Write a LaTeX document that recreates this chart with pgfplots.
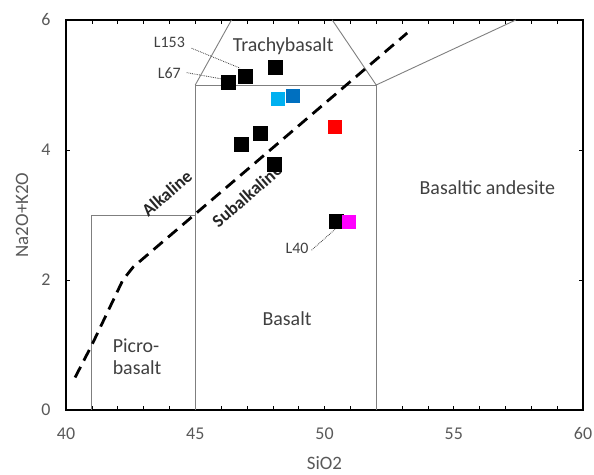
\documentclass[border=0pt]{standalone}
\usepackage{pgfplots}
\pgfplotsset{compat=1.18}
\usepackage{fontspec}
\setmainfont{Carlito}
\definecolor{txt}{HTML}{595959}
\definecolor{reg}{HTML}{404040}
\definecolor{ln}{HTML}{7F7F7F}
\definecolor{lblue}{HTML}{00B0F0}
\definecolor{dblue}{HTML}{0070C0}
\definecolor{mag}{HTML}{FF00FF}
\begin{document}
\begin{tikzpicture}
\begin{axis}[
  scale only axis, width=517bp, height=390bp,
  xmin=40, xmax=60, ymin=0, ymax=6,
  xtick={40,45,...,60}, ytick={0,2,4,6},
  minor x tick num=4,
  tick align=inside,
  major tick length=4bp, minor tick length=4bp,
  axis line style={black, line width=1.3bp},
  tick style={black, line width=0.6bp},
  /pgf/number format/assume math mode=true,
  ticklabel style={font=\fontsize{18}{21}\selectfont, text=txt},
  xticklabel style={anchor=center, yshift=-24bp},
  yticklabel style={anchor=center, xshift=-20bp},
  xlabel={SiO2}, ylabel={Na2O+K2O},
  label style={font=\fontsize{19}{22}\selectfont, text=txt},
  xlabel style={at={(axis description cs:0.5,-0.136)}, anchor=center},
  ylabel style={at={(axis description cs:-0.085,0.5)}, anchor=center},
  clip=false,
]
% field boundaries
\addplot[ln, line width=0.9bp] coordinates {(41,0) (41,3) (45,3)};
\addplot[ln, line width=0.9bp] coordinates {(45,0) (45,5) (52,5) (52,0)};
\addplot[ln, line width=0.9bp] coordinates {(46.4,6) (45,5)};
\addplot[ln, line width=0.9bp] coordinates {(50.3,6) (52,5) (57.4,6)};
% alkaline / subalkaline divide
\addplot[black, line width=2.8bp, dash pattern=on 12bp off 7bp] coordinates {
  (40.35,0.5) (41.0,1.0) (41.6,1.5) (42.2,2.0) (42.6,2.2) (53.2,5.8)};
% leaders
\addplot[reg, densely dotted, line width=0.8bp] coordinates {(44.86,5.565) (46.73,5.26)};
\addplot[reg, densely dotted, line width=0.8bp] coordinates {(44.67,5.19) (46.07,5.09)};
\addplot[reg, densely dotted, line width=0.8bp] coordinates {(49.5,2.46) (50.41,2.78)};
% samples
\addplot[only marks, mark=square*, mark size=7bp, black] coordinates {
  (46.28,5.05) (46.92,5.14) (48.11,5.27) (47.53,4.26) (46.76,4.09) (48.05,3.78) (50.47,2.9)};
\addplot[only marks, mark=square*, mark size=6.5bp, lblue] coordinates {(48.18,4.79)};
\addplot[only marks, mark=square*, mark size=6.5bp, dblue] coordinates {(48.77,4.83)};
\addplot[only marks, mark=square*, mark size=6.5bp, red] coordinates {(50.38,4.36)};
\addplot[only marks, mark=square*, mark size=6.5bp, mag] coordinates {(50.92,2.9)};
% labels
\node[text=reg, font=\fontsize{20}{23}\selectfont] at (axis cs:48.4,5.6) {Trachybasalt};
\node[text=reg, font=\fontsize{20}{23}\selectfont] at (axis cs:56.3,3.42) {Basaltic andesite};
\node[text=reg, font=\fontsize{20}{23}\selectfont] at (axis cs:48.55,1.4) {Basalt};
\node[text=reg, font=\fontsize{20}{23}\selectfont, align=left] at (axis cs:42.75,0.82) {Picro-\\basalt};
\node[text=black!85, font=\bfseries\fontsize{18}{21}\selectfont, rotate=41] at (axis cs:43.9,3.33) {Alkaline};
\node[text=black!85, font=\bfseries\fontsize{18}{21}\selectfont, rotate=41] at (axis cs:47.0,3.3) {Subalkaline};
\node[text=reg, font=\fontsize{16}{19}\selectfont] at (axis cs:44.0,5.66) {L153};
\node[text=reg, font=\fontsize{16}{19}\selectfont] at (axis cs:44.0,5.18) {L67};
\node[text=reg, font=\fontsize{16}{19}\selectfont] at (axis cs:48.94,2.48) {L40};
\end{axis}
\pgfresetboundingbox
\path (current axis.south west) ++(-66bp,-65bp) rectangle ++(594bp,475bp);
\end{tikzpicture}
\end{document}
